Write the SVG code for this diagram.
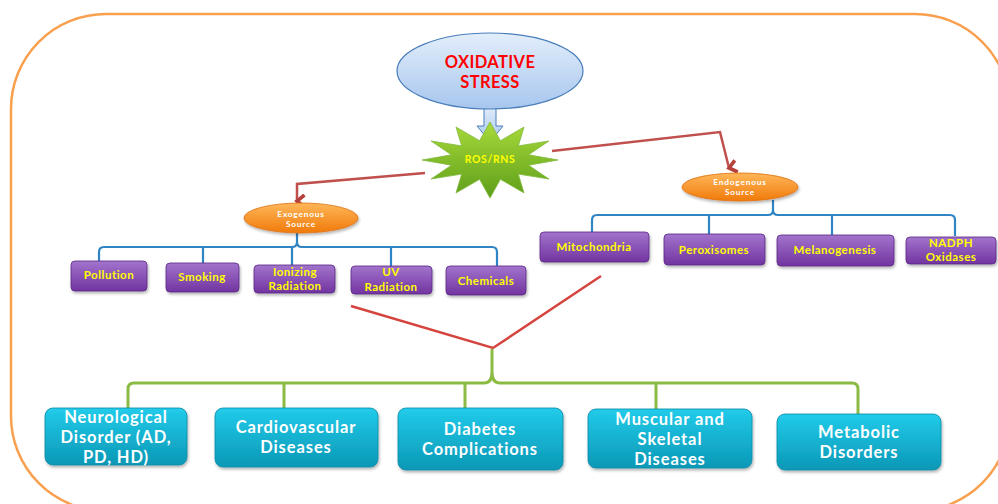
<svg xmlns="http://www.w3.org/2000/svg" width="998" height="504" viewBox="0 0 998 504">
<defs>
<linearGradient id="gBlue" x1="0" y1="0" x2="0" y2="1"><stop offset="0" stop-color="#E3EEFB"/><stop offset="1" stop-color="#A7C6EE"/></linearGradient>
<linearGradient id="gStar" x1="0" y1="0" x2="0" y2="1"><stop offset="0" stop-color="#A8DA3A"/><stop offset="1" stop-color="#5E9E1A"/></linearGradient>
<linearGradient id="gOrange" x1="0" y1="0" x2="0" y2="1"><stop offset="0" stop-color="#FFB75A"/><stop offset="1" stop-color="#F07A0A"/></linearGradient>
<linearGradient id="gPurple" x1="0" y1="0" x2="0" y2="1"><stop offset="0" stop-color="#A274CC"/><stop offset="1" stop-color="#7234A0"/></linearGradient>
<linearGradient id="gTeal" x1="0" y1="0" x2="0" y2="1"><stop offset="0" stop-color="#22CBEA"/><stop offset="1" stop-color="#0A98B6"/></linearGradient>
<filter id="sh" x="-10%" y="-10%" width="120%" height="140%"><feDropShadow dx="1" dy="2" stdDeviation="1.5" flood-color="#000" flood-opacity="0.3"/></filter>
<marker id="ah" viewBox="0 0 10 10" refX="5" refY="8" markerWidth="6" markerHeight="6" orient="auto-start-reverse" markerUnits="strokeWidth">
<path d="M1,3 L5,8 L9,3" fill="none" stroke="#B5403C" stroke-width="2.4"/>
</marker>
</defs>
<style>
.frame{fill:none;stroke:#F9A04F;stroke-width:2.5}
.red{fill:none;stroke:#D54540;stroke-width:2.5}
.redA{fill:none;stroke:#C0504D;stroke-width:2.5;marker-end:url(#ah)}
.blue{fill:none;stroke:#2F85C4;stroke-width:2.2}
.green{fill:none;stroke:#8CBB44;stroke-width:3}
.pbox{fill:url(#gPurple);stroke:#5B2785;stroke-width:0.8;filter:url(#sh)}
.tbox{fill:url(#gTeal);stroke:#0B8AA6;stroke-width:0.8;filter:url(#sh)}
.oval{fill:url(#gOrange);stroke:#E07010;stroke-width:0.8;filter:url(#sh)}
text{font-family:Lato,"Open Sans","Liberation Sans",sans-serif;font-weight:bold;text-anchor:middle}
.ptxt{font-size:11.5px;fill:#FFFF00;letter-spacing:0.5px}
.ttxt{font-size:16.5px;fill:#FFFFFF;letter-spacing:0.9px}
.otxt{font-size:8.3px;fill:#FFFFFF;letter-spacing:0.8px}
.rtxt{font-size:16.5px;fill:#FF0000;letter-spacing:0.4px}
</style>
<rect width="998" height="504" fill="#FFFFFF"/>
<rect class="frame" x="11" y="14" width="999" height="497" rx="95" ry="95"/>

<g id="connectors">
<polygon points="484,106 496,106 496,126 503,126 490,142 477,126 484,126" fill="url(#gBlue)" stroke="#4A7EBB" stroke-width="1"/>
<path class="redA" d="M425,173 L297,184 L297,201"/>
<path class="redA" d="M552,151 L720,132 L729,168"/>
<path class="blue" d="M99,263 V252 Q99,247 104,247 H292 Q297,247 297,242 V233 M297,242 Q297,247 302,247 H492 Q497,247 497,252 V266 M203,247 V263 M292,247 V265 M391,247 V266"/>
<path class="blue" d="M592,232 V220 Q592,215 597,215 H768 Q773,215 773,210 V200 M773,210 Q773,215 778,215 H950 Q955,215 955,220 V236 M709,215 V234 M832,215 V235"/>
<path class="red" d="M351,306 L493,348 L601,276"/>
<path class="green" d="M128,408 V389 Q128,383 134,383 H484 Q492,383 492,372 V349 M492,372 Q492,383 500,383 H852 Q858,383 858,389 V414 M284,383 V408 M465,383 V408 M656,383 V409"/>
</g>

<g id="oxidative-stress">
<ellipse cx="490" cy="71" rx="93" ry="38" fill="url(#gBlue)" stroke="#4A7EBB" stroke-width="1.2"/>
<text class="rtxt" x="490" y="68">OXIDATIVE</text>
<text class="rtxt" x="490" y="88">STRESS</text>
</g>

<g id="ros-rns">
<polygon points="558,160 528.6,165.2 548.9,179 518.3,174.1 524,192.9 500.4,179.3 490,198 479.6,179.3 456,192.9 461.7,174.1 431.1,179 451.4,165.2 422,160 451.4,154.8 431.1,141 461.7,145.9 456,127.1 479.6,140.7 490,122 500.4,140.7 524,127.1 518.3,145.9 548.9,141 528.6,154.8" fill="url(#gStar)" stroke="#7FB83A" stroke-width="0.8"/>
<text x="490" y="163" font-size="10.5" fill="#FFFF00" letter-spacing="0.6">ROS/RNS</text>
</g>

<g id="exogenous">
<ellipse class="oval" cx="301" cy="218" rx="57" ry="15"/>
<text class="otxt" x="301" y="217">Exogenous</text>
<text class="otxt" x="301" y="227">Source</text>
</g>
<g id="endogenous">
<ellipse class="oval" cx="740" cy="187" rx="58" ry="14"/>
<text class="otxt" x="740" y="185">Endogenous</text>
<text class="otxt" x="740" y="195">Source</text>
</g>

<g id="pollution"><rect class="pbox" x="71" y="261" width="76" height="30" rx="4"/><text class="ptxt" x="109" y="279">Pollution</text></g>
<g id="smoking"><rect class="pbox" x="166" y="263" width="73" height="29" rx="4"/><text class="ptxt" x="202" y="281">Smoking</text></g>
<g id="ionizing"><rect class="pbox" x="254" y="265" width="81" height="28" rx="4"/><text class="ptxt" x="295" y="276">Ionizing</text><text class="ptxt" x="295" y="290">Radiation</text></g>
<g id="uv"><rect class="pbox" x="351" y="266" width="81" height="28" rx="4"/><text class="ptxt" x="391" y="276">UV</text><text class="ptxt" x="391" y="291">Radiation</text></g>
<g id="chemicals"><rect class="pbox" x="446" y="266" width="80" height="29" rx="4"/><text class="ptxt" x="486" y="285">Chemicals</text></g>

<g id="mitochondria"><rect class="pbox" x="540" y="232" width="109" height="30" rx="4"/><text class="ptxt" x="594" y="251">Mitochondria</text></g>
<g id="peroxisomes"><rect class="pbox" x="664" y="234" width="101" height="31" rx="4"/><text class="ptxt" x="714" y="254">Peroxisomes</text></g>
<g id="melanogenesis"><rect class="pbox" x="777" y="235" width="117" height="31" rx="4"/><text class="ptxt" x="835" y="254">Melanogenesis</text></g>
<g id="nadph"><rect class="pbox" x="906" y="237" width="90" height="27" rx="4"/><text class="ptxt" x="951" y="247">NADPH</text><text class="ptxt" x="951" y="261">Oxidases</text></g>

<g id="neurological"><rect class="tbox" x="45" y="408" width="142" height="57" rx="8"/><text class="ttxt" x="116" y="423">Neurological</text><text class="ttxt" x="116" y="443">Disorder (AD,</text><text class="ttxt" x="116" y="463">PD, HD)</text></g>
<g id="cardiovascular"><rect class="tbox" x="215" y="408" width="163" height="59" rx="8"/><text class="ttxt" x="296" y="433">Cardiovascular</text><text class="ttxt" x="296" y="453">Diseases</text></g>
<g id="diabetes"><rect class="tbox" x="398" y="408" width="165" height="62" rx="8"/><text class="ttxt" x="480" y="435">Diabetes</text><text class="ttxt" x="480" y="455">Complications</text></g>
<g id="muscular"><rect class="tbox" x="588" y="409" width="164" height="59" rx="8"/><text class="ttxt" x="670" y="425">Muscular and</text><text class="ttxt" x="670" y="445">Skeletal</text><text class="ttxt" x="670" y="465">Diseases</text></g>
<g id="metabolic"><rect class="tbox" x="777" y="414" width="164" height="56" rx="8"/><text class="ttxt" x="859" y="438">Metabolic</text><text class="ttxt" x="859" y="458">Disorders</text></g>
</svg>
